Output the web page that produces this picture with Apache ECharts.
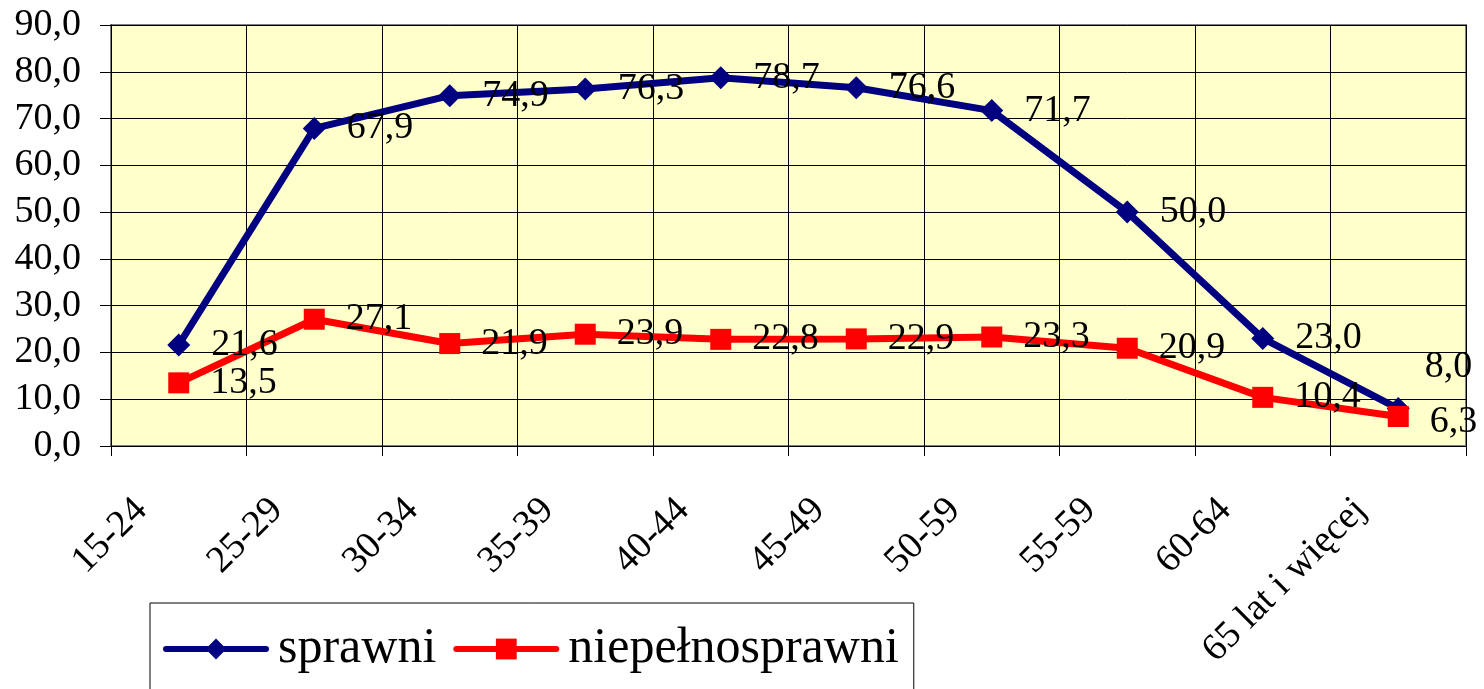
<!DOCTYPE html>
<html>
<head>
<meta charset="utf-8">
<script src="https://cdn.jsdelivr.net/npm/echarts@6/dist/echarts.min.js"></script>
<style>
html,body{margin:0;padding:0;background:#fff;}
#c{width:1484px;height:689px;}
</style>
</head>
<body>
<div id="c"></div>
<script>
const categories = ['15-24','25-29','30-34','35-39','40-44','45-49','50-59','55-59','60-64','65 lat i więcej'];
const sprawni = [21.6, 67.9, 74.9, 76.3, 78.7, 76.6, 71.7, 50.0, 23.0, 8.0];
const niepelnosprawni = [13.5, 27.1, 21.9, 23.9, 22.8, 22.9, 23.3, 20.9, 10.4, 6.3];
const yTicks = {min: 0, max: 90, interval: 10};

const FONT = "'Liberation Serif', 'Times New Roman', serif";
const fmt = v => Number(v).toFixed(1).replace('.', ',');

const chart = echarts.init(document.getElementById('c'), null, {renderer: 'canvas'});

const blueData = sprawni.map((v, i) => i === sprawni.length - 1
  ? {value: v, label: {offset: [-6, -42]}} : v);
const redData = niepelnosprawni.map((v, i) => i === niepelnosprawni.length - 1
  ? {value: v, label: {offset: [0, 5]}} : v);

const labelStyle = {
  show: true, position: 'right', distance: 21,
  fontSize: 38, fontFamily: FONT, color: '#000',
  formatter: p => fmt(p.value)
};

chart.setOption({
  backgroundColor: '#fff',
  animation: false,
  grid: {
    left: 111, right: 18, top: 25, bottom: 243,
    show: true, backgroundColor: '#FFFFCC', borderColor: '#808080', borderWidth: 2
  },
  legend: {
    left: 150, top: 603,
    padding: [21, 15, 60, 13],
    borderColor: '#000', borderWidth: 1,
    itemWidth: 100, itemHeight: 26, itemGap: 17,
    textStyle: {fontSize: 50, fontFamily: FONT, color: '#000', padding: [0, 0, 0, 7]},
    lineStyle: {width: 6, cap: 'round'},
    data: ['sprawni', 'niepełnosprawni']
  },
  xAxis: {
    type: 'category',
    data: categories,
    boundaryGap: true,
    axisLine: {show: true, lineStyle: {color: '#000', width: 1}},
    axisTick: {show: true, length: 10, lineStyle: {color: '#000', width: 1}},
    splitLine: {show: true, lineStyle: {color: '#000', width: 1}},
    axisLabel: {
      interval: 0, rotate: 45, margin: 21, padding: [0, 53, 0, 0],
      fontSize: 38, fontFamily: FONT, color: '#000'
    }
  },
  yAxis: {
    type: 'value',
    min: yTicks.min, max: yTicks.max, interval: yTicks.interval,
    axisLine: {show: true, lineStyle: {color: '#000', width: 1}},
    axisTick: {show: true, length: 11, lineStyle: {color: '#000', width: 1}},
    splitLine: {show: true, lineStyle: {color: '#000', width: 1}},
    axisLabel: {margin: 30, fontSize: 38, fontFamily: FONT, color: '#000', formatter: v => fmt(v)}
  },
  series: [
    {
      name: 'sprawni', type: 'line', data: blueData,
      symbol: 'diamond', symbolSize: 23,
      lineStyle: {color: '#000080', width: 7},
      itemStyle: {color: '#000080'},
      label: labelStyle
    },
    {
      name: 'niepełnosprawni', type: 'line', data: redData,
      symbol: 'rect', symbolSize: 21,
      lineStyle: {color: '#FF0000', width: 7},
      itemStyle: {color: '#FF0000'},
      label: labelStyle
    }
  ]
});
</script>
</body>
</html>
